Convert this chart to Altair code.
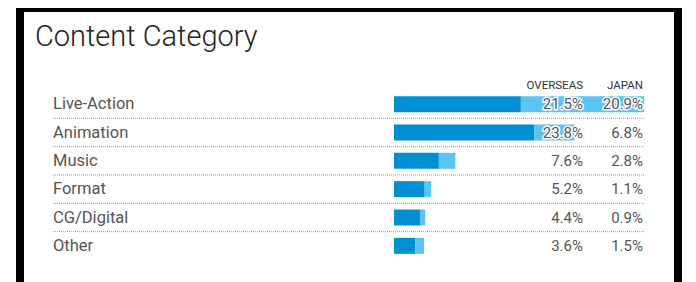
import altair as alt
import pandas as pd

categories = ["Live-Action", "Animation", "Music", "Format", "CG/Digital", "Other"]
overseas = [21.5, 23.8, 7.6, 5.2, 4.4, 3.6]
japan = [20.9, 6.8, 2.8, 1.1, 0.9, 1.5]
series = ["OVERSEAS", "JAPAN"]
colors = ["#008fd3", "#5bc4f1"]
title_text = "Content Category"

rows = []
for c, o, j in zip(categories, overseas, japan):
    rows.append({"category": c, "series": "OVERSEAS", "value": o, "order": 0})
    rows.append({"category": c, "series": "JAPAN", "value": j, "order": 1})
long_df = pd.DataFrame(rows)
wide_df = pd.DataFrame({"category": categories, "overseas": overseas, "japan": japan})
wide_df["o_lbl"] = [f"{v:.1f}%" for v in overseas]
wide_df["j_lbl"] = [f"{v:.1f}%" for v in japan]
sep_df = pd.DataFrame({"category": categories[:-1]})
one = pd.DataFrame({"t": [title_text]})

FONT = "Roboto"
yscale = alt.Scale(domain=categories, range=[82, 252], paddingInner=0, paddingOuter=0)
Y = alt.Y("category:N", scale=yscale, axis=None, sort=categories)

bars = alt.Chart(long_df).mark_bar(height=16).encode(
    x=alt.X("value:Q", stack="zero", scale=alt.Scale(domain=[0, 50], range=[386, 681]), axis=None),
    y=Y,
    color=alt.Color("series:N", scale=alt.Scale(domain=series, range=colors), legend=None),
    order=alt.Order("order:Q"),
)

seps = alt.Chart(sep_df).mark_rule(color="#9a9a9a", strokeDash=[1, 1], strokeWidth=1).encode(
    y=alt.Y("category:N", scale=yscale, axis=None, sort=categories, bandPosition=1),
    x=alt.value(45), x2=alt.value(637),
)

cat_labels = alt.Chart(wide_df).mark_text(align="left", baseline="middle", font=FONT,
                                          fontSize=16.5, color="#555").encode(
    y=Y, x=alt.value(45), text="category:N")

def val_layer(field, xpos):
    halo = alt.Chart(wide_df).mark_text(align="right", baseline="middle", font=FONT, fontSize=15,
                                        stroke="white", strokeWidth=3, color="white").encode(
        y=Y, x=alt.value(xpos), text=f"{field}:N")
    txt = alt.Chart(wide_df).mark_text(align="right", baseline="middle", font=FONT, fontSize=15,
                                       color="#555").encode(
        y=Y, x=alt.value(xpos), text=f"{field}:N")
    return [halo, txt]

def header(label, xpos):
    return alt.Chart(pd.DataFrame({"h": [label]})).mark_text(
        align="right", baseline="middle", font=FONT, fontSize=11.5, color="#333").encode(
        x=alt.value(xpos), y=alt.value(78), text="h:N")

title = alt.Chart(one).mark_text(align="left", baseline="alphabetic", font=FONT, fontSize=29,
                                 fontWeight=300, color="#222").encode(
    x=alt.value(27), y=alt.value(38), text="t:N")

border_l = alt.Chart(one).mark_rule(color="black", strokeWidth=8).encode(
    x=alt.value(12), y=alt.value(0), y2=alt.value(274))
border_r = alt.Chart(one).mark_rule(color="black", strokeWidth=8).encode(
    x=alt.value(670), y=alt.value(0), y2=alt.value(274))
border_t = alt.Chart(one).mark_rule(color="black", strokeWidth=8).encode(
    y=alt.value(0), x=alt.value(8), x2=alt.value(674))

chart = alt.layer(
    seps, bars, cat_labels, *val_layer("o_lbl", 575), *val_layer("j_lbl", 635),
    header(series[0], 575), header(series[1], 635), title, border_l, border_r, border_t
).properties(
    width=680, height=274, autosize=alt.AutoSizeParams(type="none"), padding=0
).configure_view(strokeWidth=0)

chart.save("out.html", embed_options={"renderer": "svg", "actions": False})
